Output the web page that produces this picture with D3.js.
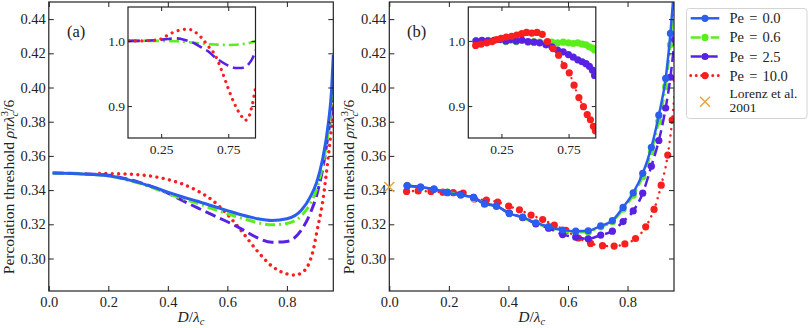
<!DOCTYPE html>
<html lang="en">
<head>
<meta charset="UTF-8">
<title>Percolation threshold</title>
<style>
body { margin: 0; padding: 0; background: #fff; }
svg text { font-family: 'Liberation Serif', serif; fill: #222; }
</style>
</head>
<body>
<div id="chart"></div>
<script src="https://cdn.jsdelivr.net/npm/d3@7"></script>
<script>
// ---- data ----
const seriesNames = ['Pe = 0.0', 'Pe = 0.6', 'Pe = 2.5', 'Pe = 10.0'];
const lorenzLabel = ['Lorenz et al.', '2001'];
const lorenzPoint = [0.0, 0.3418];

const xTicks = [0.0, 0.2, 0.4, 0.6, 0.8];
const yTicks = [0.30, 0.32, 0.34, 0.36, 0.38, 0.40, 0.42, 0.44];
const insetXTicks = [0.25, 0.75];
const insetYTicks = [0.9, 1.0];

// panel (a): theory curves
const dTheory = [0.013, 0.05, 0.1, 0.15, 0.2, 0.25, 0.3, 0.35, 0.4, 0.45, 0.5, 0.55, 0.6, 0.65, 0.7, 0.75, 0.8, 0.85, 0.88, 0.9, 0.92, 0.94, 0.95, 0.956];
const thPe0 = [0.3500, 0.3499, 0.3496, 0.3491, 0.3484, 0.3467, 0.3445, 0.3418, 0.3388, 0.3360, 0.3335, 0.3307, 0.3280, 0.3254, 0.3233, 0.3222, 0.3232, 0.3285, 0.3365, 0.3445, 0.3580, 0.3800, 0.3980, 0.4190];
const thPe06 = [0.3500, 0.3499, 0.3496, 0.3491, 0.3483, 0.3465, 0.3442, 0.3413, 0.3380, 0.3350, 0.3322, 0.3291, 0.3262, 0.3235, 0.3210, 0.3197, 0.3205, 0.3252, 0.3325, 0.3405, 0.3545, 0.3750, 0.3900, 0.4010];
const thPe25 = [0.3500, 0.3499, 0.3497, 0.3493, 0.3487, 0.3470, 0.3448, 0.3418, 0.3382, 0.3338, 0.3296, 0.3255, 0.3215, 0.3170, 0.3122, 0.3095, 0.3100, 0.3170, 0.3270, 0.3370, 0.3520, 0.3740, 0.3860, 0.3950];
const dTheoryRed = [0.17, 0.2, 0.25, 0.3, 0.35, 0.4, 0.45, 0.5, 0.55, 0.6, 0.65, 0.7, 0.75, 0.8, 0.83, 0.85, 0.87, 0.89, 0.9, 0.92, 0.94, 0.95, 0.956];
const thPe10 = [0.3498, 0.3497, 0.3495, 0.3490, 0.3480, 0.3462, 0.3435, 0.3395, 0.3340, 0.3258, 0.3155, 0.3045, 0.2955, 0.2910, 0.2903, 0.2918, 0.2955, 0.3060, 0.3150, 0.3330, 0.3610, 0.3770, 0.3890];

// panel (a) inset: ratio to Pe = 0
const dInsetA = [0.01, 0.1, 0.2, 0.25, 0.3, 0.35, 0.4, 0.45, 0.5, 0.55, 0.6, 0.65, 0.7, 0.75, 0.8, 0.85, 0.875, 0.9, 0.93, 0.955];
const ratioAPe06 = [1.000, 1.000, 1.000, 1.000, 1.000, 0.9995, 0.999, 0.998, 0.997, 0.996, 0.995, 0.9945, 0.994, 0.9938, 0.994, 0.995, 0.9958, 0.9965, 0.998, 0.9995];
const ratioAPe25 = [1.000, 1.000, 1.001, 1.002, 1.003, 1.004, 1.003, 1.000, 0.996, 0.990, 0.984, 0.975, 0.968, 0.962, 0.9585, 0.9585, 0.960, 0.964, 0.973, 0.986];
const ratioAPe10 = [1.000, 1.000, 1.001, 1.003, 1.009, 1.014, 1.017, 1.018, 1.014, 1.005, 0.992, 0.979, 0.955, 0.927, 0.902, 0.884, 0.878, 0.882, 0.903, 0.930];

// panel (b): simulation points
const dSim = [0.06, 0.105, 0.15, 0.195, 0.24, 0.283, 0.32, 0.36, 0.403, 0.448, 0.492, 0.535, 0.582, 0.626, 0.668, 0.71, 0.749, 0.785, 0.819, 0.851, 0.88, 0.905, 0.928, 0.944, 0.958];
const simPe0 = [0.3425, 0.3416, 0.3406, 0.3385, 0.3371, 0.3357, 0.3318, 0.3308, 0.3263, 0.3242, 0.3209, 0.3186, 0.3166, 0.3160, 0.3162, 0.3191, 0.3222, 0.3299, 0.3384, 0.3498, 0.3650, 0.3838, 0.4053, 0.4316, 0.4620];
const simPe06 = [0.3428, 0.3417, 0.3407, 0.3388, 0.3373, 0.3352, 0.3322, 0.3305, 0.3265, 0.3238, 0.3205, 0.3180, 0.3158, 0.3153, 0.3155, 0.3185, 0.3215, 0.3288, 0.3370, 0.3478, 0.3625, 0.3802, 0.4005, 0.4250, 0.4520];
const simPe25 = [0.3425, 0.3418, 0.3405, 0.3387, 0.3375, 0.3357, 0.3322, 0.3306, 0.3265, 0.3240, 0.3203, 0.3177, 0.3140, 0.3125, 0.3115, 0.3137, 0.3160, 0.3216, 0.3278, 0.3382, 0.3540, 0.3690, 0.3880, 0.4060, 0.4280];
const dSimRed = [0.058, 0.097, 0.14, 0.18, 0.215, 0.248, 0.286, 0.326, 0.364, 0.401, 0.437, 0.476, 0.515, 0.554, 0.593, 0.635, 0.676, 0.716, 0.755, 0.791, 0.827, 0.861, 0.889, 0.913, 0.935, 0.95, 0.962];
const simPe10 = [0.3392, 0.3395, 0.3392, 0.3388, 0.3385, 0.3383, 0.3348, 0.3342, 0.3330, 0.3306, 0.3285, 0.3254, 0.3228, 0.3195, 0.3164, 0.3120, 0.3088, 0.3075, 0.3073, 0.3085, 0.3117, 0.3185, 0.3287, 0.3429, 0.3605, 0.3810, 0.4050];

// panel (b) inset: ratio to Pe = 0
const ratioBPe06 = [1.000, 1.000, 1.001, 1.001, 1.002, 0.999, 1.001, 0.999, 1.001, 0.998, 0.999, 0.998, 0.997, 0.998, 0.997, 0.998, 0.997, 0.996, 0.997, 0.995, 0.994, 0.991, 0.989, 0.986];
const ratioBPe25 = [1.000, 1.001, 1.000, 1.001, 1.002, 1.000, 1.002, 1.000, 1.001, 0.999, 0.998, 0.997, 0.994, 0.991, 0.986, 0.983, 0.979, 0.975, 0.971, 0.968, 0.965, 0.961, 0.955, 0.947];
const ratioBPe10 = [0.993, 0.995, 0.997, 0.999, 1.002, 1.004, 1.006, 1.007, 1.009, 1.011, 1.013, 1.012, 1.013, 1.010, 0.999, 0.988, 0.978, 0.962, 0.951, 0.932, 0.913, 0.899, 0.887, 0.879, 0.869, 0.862];

// ---- styles ----
const colors = ['#2b5ef0', '#5cee1c', '#5822e4', '#fa1f1f'];
const dashes = [null, '10,4,2,4', '11,5', '0.01,6.4'];
const caps = ['butt', 'butt', 'butt', 'round'];
const lorenzColor = '#e6a23c';
const serif = "'Liberation Serif', serif";

const svg = d3.select('#chart').append('svg')
    .attr('width', 810).attr('height', 328);

const mainTop = 2, mainBottom = 291;
const panelA = { left: 48.8, right: 333.3, inset: 128, label: '(a)', labelX: 67 };
const panelB = { left: 389.3, right: 674, inset: 468.3, label: '(b)', labelX: 407 };

function zip(xs, ys) {
    return ys.map((v, i) => [xs[i], v]).filter(p => p[0] !== undefined);
}

function txt(sel, size) {
    return sel.append('text').style('font-family', serif).attr('font-size', size).attr('fill', '#222');
}

let clipId = 0;
function clipRect(x0, y0, x1, y1) {
    const id = 'clip' + (clipId++);
    svg.append('clipPath').attr('id', id).append('rect')
        .attr('x', x0).attr('y', y0).attr('width', x1 - x0).attr('height', y1 - y0);
    return 'url(#' + id + ')';
}

function frame(x, y, xt, yt, fmtX, fmtY, tick, fs) {
    const [x0, x1] = x.range();
    const [y1, y0] = y.range();
    const g = svg.append('g');
    g.append('g').attr('transform', `translate(0,${y1})`)
        .call(d3.axisBottom(x).tickValues(xt).tickFormat(fmtX).tickSize(-tick).tickSizeOuter(0).tickPadding(6));
    g.append('g').attr('transform', `translate(0,${y0})`)
        .call(d3.axisTop(x).tickValues(xt).tickFormat('').tickSize(-tick).tickSizeOuter(0));
    g.append('g').attr('transform', `translate(${x0},0)`)
        .call(d3.axisLeft(y).tickValues(yt).tickFormat(fmtY).tickSize(-tick).tickSizeOuter(0).tickPadding(3));
    g.append('g').attr('transform', `translate(${x1},0)`)
        .call(d3.axisRight(y).tickValues(yt).tickFormat('').tickSize(-tick).tickSizeOuter(0));
    g.selectAll('.domain').remove();
    g.selectAll('.tick line').attr('stroke', '#222').attr('stroke-width', 1);
    g.selectAll('text').style('font-family', serif).attr('font-size', fs).attr('fill', '#222');
    g.append('rect').attr('x', x0).attr('y', y0).attr('width', x1 - x0).attr('height', y1 - y0)
        .attr('fill', 'none').attr('stroke', '#222').attr('stroke-width', 1.2);
}

function drawLine(g, pts, x, y, i, w) {
    g.append('path').datum(pts)
        .attr('d', d3.line().x(d => x(d[0])).y(d => y(d[1])).curve(d3.curveMonotoneX))
        .attr('fill', 'none').attr('stroke', colors[i]).attr('stroke-width', w)
        .attr('stroke-dasharray', dashes[i]).attr('stroke-linecap', caps[i]);
}

function drawMarkers(g, pts, x, y, i, r) {
    g.selectAll(null).data(pts).enter().append('circle')
        .attr('cx', d => x(d[0])).attr('cy', d => y(d[1])).attr('r', r)
        .attr('fill', colors[i]);
}

function yLabel(cx) {
    const t = txt(svg, 15.5)
        .attr('transform', `translate(${cx},187) rotate(-90)`)
        .attr('text-anchor', 'middle');
    t.append('tspan').text('Percolation threshold ');
    t.append('tspan').attr('font-style', 'italic').text('ρπλ');
    t.append('tspan').attr('font-size', 10.5).attr('dy', -6).text('3');
    t.append('tspan').attr('font-size', 10.5).attr('font-style', 'italic').attr('dx', -5.5).attr('dy', 10).text('c');
    t.append('tspan').attr('dy', -4).text('/6');
}

function xLabel(cx) {
    const t = txt(svg, 15.5)
        .attr('x', cx).attr('y', 322)
        .attr('text-anchor', 'middle');
    t.append('tspan').attr('font-style', 'italic').text('D');
    t.append('tspan').text('/');
    t.append('tspan').attr('font-style', 'italic').text('λ');
    t.append('tspan').attr('font-size', 10.5).attr('font-style', 'italic').attr('dy', 3).text('c');
}

function panel(p, drawMain, drawInset) {
    const x = d3.scaleLinear().domain([0, 0.956]).range([p.left, p.right]);
    const y = d3.scaleLinear().domain([0.281, 0.450]).range([mainBottom, mainTop]);

    const g = svg.append('g').attr('clip-path', clipRect(p.left, mainTop, p.right, mainBottom));
    drawMain(g, x, y);
    frame(x, y, xTicks, yTicks, d3.format('.1f'), d3.format('.2f'), 5, 14.5);

    txt(svg, 16.5).attr('x', p.labelX).attr('y', 37).text(p.label);

    // inset
    const ix = d3.scaleLinear().domain([0.003, 0.953]).range([p.inset, p.inset + 127.5]);
    const iy = d3.scaleLinear().domain([0.851, 1.052]).range([138, 7]);
    svg.append('rect').attr('x', p.inset).attr('y', 7).attr('width', 127.5).attr('height', 131).attr('fill', '#fff');
    const ig = svg.append('g').attr('clip-path', clipRect(p.inset, 7, p.inset + 127.5, 138));
    drawInset(ig, ix, iy);
    frame(ix, iy, insetXTicks, insetYTicks, d3.format('.2f'), d3.format('.1f'), 4, 13.5);

    yLabel(p.left - 35);
    xLabel((p.left + p.right) / 2);
}

// panel (a)
panel(panelA, (g, x, y) => {
    drawLine(g, zip(dTheoryRed, thPe10), x, y, 3, 3.4);
    drawLine(g, zip(dTheory, thPe25), x, y, 2, 3);
    drawLine(g, zip(dTheory, thPe06), x, y, 1, 3);
    drawLine(g, zip(dTheory, thPe0), x, y, 0, 3);
}, (g, x, y) => {
    drawLine(g, zip(dInsetA, ratioAPe06), x, y, 1, 2.6);
    drawLine(g, zip(dInsetA, ratioAPe25), x, y, 2, 2.6);
    drawLine(g, zip(dInsetA, ratioAPe10), x, y, 3, 3.2);
});

// panel (b)
panel(panelB, (g, x, y) => {
    const sets = [zip(dSim, simPe0), zip(dSim, simPe06), zip(dSim, simPe25), zip(dSimRed, simPe10)];
    [3, 1, 2, 0].forEach(i => {
        drawLine(g, sets[i], x, y, i, 2.5);
        drawMarkers(g, sets[i], x, y, i, 3.6);
    });
}, (g, x, y) => {
    const sets = [null, zip(dSim, ratioBPe06), zip(dSim, ratioBPe25), zip(dSimRed, ratioBPe10)];
    [1, 2, 3].forEach(i => {
        drawLine(g, sets[i], x, y, i, 2.2);
        drawMarkers(g, sets[i], x, y, i, 3.6);
    });
});

// Lorenz et al. 2001 reference value, on the left axis of panel (b)
const xb = d3.scaleLinear().domain([0, 0.956]).range([panelB.left, panelB.right]);
const yb = d3.scaleLinear().domain([0.281, 0.450]).range([mainBottom, mainTop]);
function cross(cx, cy, s) {
    svg.append('path')
        .attr('d', `M${cx - s},${cy - s}L${cx + s},${cy + s}M${cx - s},${cy + s}L${cx + s},${cy - s}`)
        .attr('stroke', lorenzColor).attr('stroke-width', 1.4).attr('fill', 'none');
}
cross(xb(lorenzPoint[0]), yb(lorenzPoint[1]), 5);

// legend
const lg = svg.append('g');
lg.append('rect').attr('x', 686.5).attr('y', 8.5).attr('width', 120.5).attr('height', 110).attr('rx', 3)
    .attr('fill', '#fff').attr('stroke', '#d4d4d4');
seriesNames.forEach((name, i) => {
    const cy = 18.3 + i * 19.1;
    lg.append('line').attr('x1', 690.7).attr('x2', 719.3).attr('y1', cy).attr('y2', cy)
        .attr('stroke', colors[i]).attr('stroke-width', i === 3 ? 3 : 2.5)
        .attr('stroke-dasharray', i === 3 ? '0.01,5.5' : dashes[i]).attr('stroke-linecap', caps[i]);
    lg.append('circle').attr('cx', 705).attr('cy', cy).attr('r', 3.6).attr('fill', colors[i]);
    txt(lg, 14.5).attr('x', 729.5).attr('y', cy + 5).attr('word-spacing', 1.5).text(name);
});
cross(705, 101.7, 5);
txt(lg, 13.5).attr('x', 729.5).attr('y', 98).text(lorenzLabel[0]);
txt(lg, 13.5).attr('x', 729.5).attr('y', 112).text(lorenzLabel[1]);
</script>
</body>
</html>
